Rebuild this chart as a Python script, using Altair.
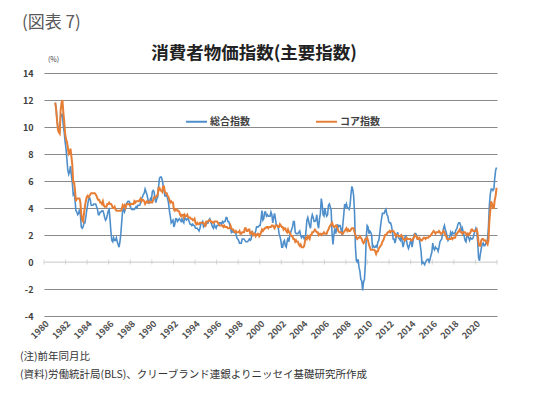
import altair as alt
import pandas as pd

YEARS = list(range(1981, 2022))

HEADLINE = [
    [11.8, 11.4, 10.5, 10.0, 9.8, 9.6, 10.8, 10.8, 11.0, 10.1, 9.6, 8.9],
    [8.4, 7.6, 6.8, 6.5, 6.7, 7.1, 6.4, 5.9, 5.0, 5.1, 4.6, 3.8],
    [3.7, 3.5, 3.6, 3.9, 3.5, 2.6, 2.5, 2.6, 2.9, 2.9, 3.3, 3.8],
    [4.2, 4.6, 4.8, 4.6, 4.2, 4.2, 4.2, 4.3, 4.3, 4.3, 4.1, 3.9],
    [3.5, 3.5, 3.7, 3.7, 3.8, 3.8, 3.6, 3.3, 3.1, 3.2, 3.5, 3.8],
    [3.9, 3.1, 2.2, 1.6, 1.5, 1.8, 1.6, 1.6, 1.8, 1.5, 1.3, 1.1],
    [1.5, 2.1, 3.0, 3.8, 3.9, 3.7, 3.9, 4.3, 4.4, 4.5, 4.5, 4.4],
    [4.0, 3.9, 3.9, 3.9, 3.9, 4.0, 4.1, 4.0, 4.2, 4.2, 4.2, 4.4],
    [4.7, 4.8, 5.0, 5.1, 5.4, 5.2, 5.0, 4.7, 4.3, 4.5, 4.7, 4.6],
    [5.2, 5.3, 5.2, 4.7, 4.4, 4.7, 4.8, 5.6, 6.2, 6.3, 6.3, 6.1],
    [5.7, 5.3, 4.9, 4.9, 5.0, 4.7, 4.4, 3.8, 3.4, 2.9, 3.0, 3.1],
    [2.6, 2.8, 3.2, 3.2, 3.0, 3.1, 3.2, 3.1, 3.0, 3.2, 3.0, 2.9],
    [3.3, 3.2, 3.1, 3.2, 3.2, 3.0, 2.8, 2.8, 2.7, 2.8, 2.7, 2.7],
    [2.5, 2.5, 2.5, 2.4, 2.3, 2.5, 2.8, 2.9, 3.0, 2.6, 2.7, 2.7],
    [2.8, 2.9, 2.9, 3.1, 3.2, 3.0, 2.8, 2.6, 2.5, 2.8, 2.6, 2.5],
    [2.7, 2.7, 2.8, 2.9, 2.9, 2.8, 3.0, 2.9, 3.0, 3.0, 3.3, 3.3],
    [3.0, 3.0, 2.8, 2.5, 2.2, 2.3, 2.2, 2.2, 2.2, 2.1, 1.8, 1.7],
    [1.6, 1.4, 1.4, 1.4, 1.7, 1.7, 1.7, 1.6, 1.5, 1.5, 1.5, 1.6],
    [1.7, 1.6, 1.7, 2.3, 2.1, 2.0, 2.1, 2.3, 2.6, 2.6, 2.6, 2.7],
    [2.7, 3.2, 3.8, 3.1, 3.2, 3.7, 3.7, 3.4, 3.5, 3.4, 3.4, 3.4],
    [3.7, 3.5, 2.9, 3.3, 3.6, 3.2, 2.7, 2.7, 2.6, 2.1, 1.9, 1.6],
    [1.1, 1.1, 1.5, 1.6, 1.2, 1.1, 1.5, 1.8, 1.5, 2.0, 2.2, 2.4],
    [2.6, 3.0, 3.0, 2.2, 2.1, 2.1, 2.1, 2.2, 2.3, 2.0, 1.8, 1.9],
    [1.9, 1.7, 1.7, 2.3, 3.1, 3.3, 3.0, 2.7, 2.5, 3.2, 3.5, 3.3],
    [3.0, 3.0, 3.1, 3.5, 2.8, 2.5, 3.2, 3.6, 4.7, 4.3, 3.5, 3.4],
    [4.0, 3.6, 3.4, 3.5, 4.2, 4.3, 4.1, 3.8, 2.1, 1.3, 2.0, 2.5],
    [2.1, 2.4, 2.8, 2.6, 2.7, 2.7, 2.4, 2.0, 2.8, 3.5, 4.3, 4.1],
    [4.3, 4.0, 4.0, 3.9, 4.2, 5.0, 5.6, 5.4, 4.9, 3.7, 1.1, 0.1],
    [0.0, 0.2, -0.4, -0.7, -1.3, -1.4, -2.1, -1.5, -1.3, -0.2, 1.8, 2.7],
    [2.6, 2.1, 2.3, 2.2, 2.0, 1.1, 1.2, 1.1, 1.1, 1.2, 1.1, 1.5],
    [1.6, 2.1, 2.7, 3.2, 3.6, 3.6, 3.6, 3.8, 3.9, 3.5, 3.4, 3.0],
    [2.9, 2.9, 2.7, 2.3, 1.7, 1.7, 1.4, 1.7, 2.0, 2.2, 1.8, 1.7],
    [1.6, 2.0, 1.5, 1.1, 1.4, 1.8, 2.0, 1.5, 1.2, 1.0, 1.2, 1.5],
    [1.6, 1.1, 1.5, 2.0, 2.1, 2.1, 2.0, 1.7, 1.7, 1.7, 1.3, 0.8],
    [-0.1, 0.0, -0.1, -0.2, 0.0, 0.1, 0.2, 0.2, 0.0, 0.2, 0.5, 0.7],
    [1.4, 1.0, 0.9, 1.1, 1.0, 1.0, 0.8, 1.1, 1.5, 1.6, 1.7, 2.1],
    [2.5, 2.7, 2.4, 2.2, 1.9, 1.6, 1.7, 1.9, 2.2, 2.0, 2.2, 2.1],
    [2.1, 2.2, 2.4, 2.5, 2.8, 2.9, 2.9, 2.7, 2.3, 2.5, 2.2, 1.9],
    [1.6, 1.5, 1.9, 2.0, 1.8, 1.6, 1.8, 1.7, 1.7, 1.8, 2.1, 2.3],
    [2.5, 2.3, 1.5, 0.3, 0.1, 0.6, 1.0, 1.3, 1.4, 1.2, 1.2, 1.4],
    [1.4, 1.7, 2.6, 4.2, 5.0, 5.4, 5.4, 5.3, 5.4, 6.2, 6.8, 7.0],
]

CORE = [
    [11.8, 11.3, 10.5, 9.8, 9.6, 9.5, 11.2, 11.8, 12.0, 11.1, 10.4, 9.5],
    [9.1, 8.9, 8.5, 8.0, 8.1, 8.4, 7.8, 7.2, 5.9, 5.9, 5.3, 4.5],
    [4.7, 4.7, 4.7, 4.7, 4.4, 3.5, 3.1, 3.0, 3.6, 4.1, 4.5, 4.8],
    [4.9, 4.8, 4.9, 5.0, 5.1, 5.1, 5.1, 5.1, 5.1, 5.0, 4.9, 4.7],
    [4.6, 4.6, 4.4, 4.4, 4.3, 4.5, 4.2, 4.1, 4.1, 4.1, 4.3, 4.3],
    [4.4, 4.3, 4.3, 4.2, 4.0, 4.0, 4.1, 3.9, 3.8, 3.8, 3.8, 3.8],
    [3.8, 3.8, 3.9, 4.2, 4.1, 4.2, 4.0, 4.2, 4.3, 4.3, 4.3, 4.2],
    [4.3, 4.3, 4.3, 4.3, 4.5, 4.4, 4.5, 4.5, 4.5, 4.5, 4.6, 4.7],
    [4.5, 4.6, 4.6, 4.5, 4.3, 4.4, 4.5, 4.4, 4.4, 4.5, 4.4, 4.4],
    [4.4, 4.6, 4.8, 4.8, 4.8, 4.9, 5.0, 5.5, 5.5, 5.3, 5.3, 5.2],
    [5.6, 5.6, 5.2, 5.1, 5.1, 4.9, 4.8, 4.6, 4.4, 4.5, 4.4, 4.4],
    [3.9, 3.8, 3.9, 3.9, 3.8, 3.8, 3.7, 3.5, 3.4, 3.5, 3.5, 3.3],
    [3.5, 3.4, 3.4, 3.5, 3.3, 3.3, 3.3, 3.2, 3.2, 3.1, 3.1, 3.2],
    [2.9, 2.8, 2.9, 2.8, 2.8, 2.9, 2.9, 2.9, 2.9, 2.9, 2.8, 2.6],
    [3.0, 3.0, 3.0, 3.1, 3.1, 3.0, 3.0, 2.9, 2.9, 3.0, 3.0, 3.0],
    [3.0, 2.9, 2.8, 2.7, 2.7, 2.7, 2.7, 2.6, 2.7, 2.6, 2.6, 2.6],
    [2.5, 2.5, 2.5, 2.7, 2.5, 2.4, 2.4, 2.3, 2.2, 2.3, 2.2, 2.2],
    [2.2, 2.3, 2.1, 2.1, 2.2, 2.2, 2.2, 2.5, 2.5, 2.3, 2.3, 2.4],
    [2.4, 2.1, 2.1, 2.2, 2.0, 2.1, 2.1, 1.9, 2.0, 2.1, 2.1, 1.9],
    [2.0, 2.2, 2.4, 2.3, 2.4, 2.5, 2.5, 2.6, 2.6, 2.5, 2.6, 2.6],
    [2.6, 2.7, 2.7, 2.6, 2.5, 2.7, 2.7, 2.7, 2.6, 2.6, 2.8, 2.7],
    [2.6, 2.6, 2.4, 2.5, 2.5, 2.3, 2.2, 2.4, 2.2, 2.2, 2.0, 1.9],
    [1.9, 1.7, 1.7, 1.5, 1.6, 1.5, 1.5, 1.3, 1.2, 1.3, 1.1, 1.1],
    [1.1, 1.2, 1.6, 1.8, 1.7, 1.9, 1.8, 1.7, 2.0, 2.0, 2.2, 2.2],
    [2.3, 2.4, 2.3, 2.2, 2.2, 2.0, 2.1, 2.1, 2.0, 2.1, 2.1, 2.2],
    [2.1, 2.1, 2.1, 2.3, 2.4, 2.6, 2.7, 2.8, 2.9, 2.7, 2.6, 2.6],
    [2.7, 2.7, 2.5, 2.3, 2.2, 2.2, 2.2, 2.1, 2.1, 2.2, 2.3, 2.4],
    [2.5, 2.3, 2.4, 2.3, 2.3, 2.4, 2.5, 2.5, 2.5, 2.2, 2.0, 1.8],
    [1.7, 1.8, 1.8, 1.9, 1.8, 1.7, 1.5, 1.4, 1.5, 1.7, 1.7, 1.8],
    [1.6, 1.3, 1.1, 0.9, 0.9, 0.9, 0.9, 0.9, 0.8, 0.6, 0.8, 0.8],
    [1.0, 1.1, 1.2, 1.3, 1.5, 1.6, 1.8, 2.0, 2.0, 2.1, 2.2, 2.2],
    [2.3, 2.2, 2.3, 2.3, 2.3, 2.2, 2.1, 1.9, 2.0, 2.0, 1.9, 1.9],
    [1.9, 2.0, 1.9, 1.7, 1.7, 1.6, 1.7, 1.8, 1.7, 1.7, 1.7, 1.7],
    [1.6, 1.6, 1.7, 1.8, 2.0, 1.9, 1.9, 1.7, 1.7, 1.8, 1.7, 1.6],
    [1.6, 1.7, 1.8, 1.8, 1.7, 1.8, 1.8, 1.8, 1.9, 1.9, 2.0, 2.1],
    [2.2, 2.3, 2.2, 2.1, 2.2, 2.2, 2.2, 2.3, 2.2, 2.1, 2.1, 2.2],
    [2.3, 2.2, 2.0, 1.9, 1.7, 1.7, 1.7, 1.7, 1.7, 1.8, 1.7, 1.8],
    [1.8, 1.8, 2.1, 2.1, 2.2, 2.3, 2.4, 2.2, 2.2, 2.1, 2.2, 2.2],
    [2.2, 2.1, 2.0, 2.1, 2.0, 2.1, 2.2, 2.4, 2.4, 2.3, 2.3, 2.3],
    [2.3, 2.4, 2.1, 1.4, 1.2, 1.2, 1.6, 1.7, 1.7, 1.6, 1.6, 1.6],
    [1.4, 1.3, 1.6, 3.0, 3.8, 4.5, 4.3, 4.0, 4.0, 4.6, 4.9, 5.5],
]

SERIES = ["総合指数", "コア指数"]
COLORS = ["#4e8fcb", "#e67e36"]
TICK_YEARS = list(range(1980, 2021, 2))
ZERO_TICKS = list(range(1980, 2023, 2))
Y_TICKS = list(range(-4, 15, 2))

FONT = "Noto Sans CJK JP"

rows = []
for i, yr in enumerate(YEARS):
    for m in range(12):
        t = yr + (m + 0.5) / 12
        rows.append({"t": t, "v": HEADLINE[i][m], "s": SERIES[0]})
        rows.append({"t": t, "v": CORE[i][m], "s": SERIES[1]})
df = pd.DataFrame(rows)

x_axis = alt.Axis(
    values=TICK_YEARS, format="d", labelAngle=-45, grid=False, domain=False,
    ticks=False, title=None, labelFontSize=9, labelFont=FONT,
    labelColor="#505050", labelFontWeight="bold", labelPadding=3,
    labelOverlap=False, labelFlush=False,
)
y_axis = alt.Axis(
    values=Y_TICKS, title=None, domain=False, ticks=False,
    labelExpr="'' + datum.value", labelFontSize=9, labelFont=FONT,
    labelColor="#404040", labelFontWeight="bold", labelPadding=11,
    labelOverlap=False, labelFlush=False,
    gridColor={"condition": {"test": "datum.value === 0", "value": "#e0e0e0"}, "value": "#8a8a8a"},
    gridWidth=1,
)
x_scale = alt.Scale(domain=[1980, 2022], nice=False, zero=False)
y_scale = alt.Scale(domain=[-4, 14], nice=False, zero=False)


def xe():
    return alt.X("t:Q", scale=x_scale, axis=x_axis)


def ye():
    return alt.Y("v:Q", scale=y_scale, axis=y_axis)


color_enc = alt.Color(
    "s:N",
    scale=alt.Scale(domain=SERIES, range=COLORS),
    legend=alt.Legend(
        title=None, orient="none", legendX=141, legendY=37, direction="horizontal",
        symbolType="stroke", symbolSize=441, symbolStrokeWidth=2, labelFont=FONT,
        labelFontSize=10, labelFontWeight="bold", labelColor="#404040",
        columnPadding=62, labelOffset=2,
    ),
)

base = alt.Chart(df)
blue = base.transform_filter(alt.datum.s == SERIES[0]).mark_line(strokeWidth=1.6).encode(
    x=xe(), y=ye(), color=color_enc
)
orange = base.transform_filter(alt.datum.s == SERIES[1]).mark_line(strokeWidth=2).encode(
    x=xe(), y=ye(), color=color_enc
)

zero_line = alt.Chart(pd.DataFrame({"v": [0]})).mark_rule(color="#d6d6d6", strokeWidth=1).encode(
    y=ye()
)
zero_ticks = alt.Chart(pd.DataFrame({"t": ZERO_TICKS, "v": [0] * len(ZERO_TICKS)})).mark_tick(
    orient="vertical", size=5, thickness=1, color="#c8c8c8"
).encode(x=xe(), y=ye())


def label(text, x, y, size, color="#333333", weight="normal", align="left"):
    return alt.Chart(pd.DataFrame({"txt": [text]})).mark_text(
        font=FONT, fontSize=size, color=color, fontWeight=weight, align=align, baseline="middle"
    ).encode(text="txt:N", x=alt.value(x), y=alt.value(y))


texts = [
    label("(図表 7)", -22, -50, 17, color="#5a5a5a"),
    label("消費者物価指数(主要指数)", 210, -19, 17.5, color="#222222", weight="bold", align="center"),
    label("(%)", 4, -13, 7, color="#444444"),
    label("(注)前年同月比", -24, 284, 10.5, color="#333333"),
    label("(資料)労働統計局(BLS)、クリーブランド連銀よりニッセイ基礎研究所作成", -24, 302, 10.5, color="#333333"),
]

chart = alt.layer(zero_line, zero_ticks, blue, orange, *texts).properties(
    width=453, height=243,
    autosize=alt.AutoSizeParams(type="none"),
    padding={"left": 36, "top": 65, "right": 35, "bottom": 75},
).configure_view(stroke=None)

chart.save("out.html", embed_options={"renderer": "svg", "actions": False})
